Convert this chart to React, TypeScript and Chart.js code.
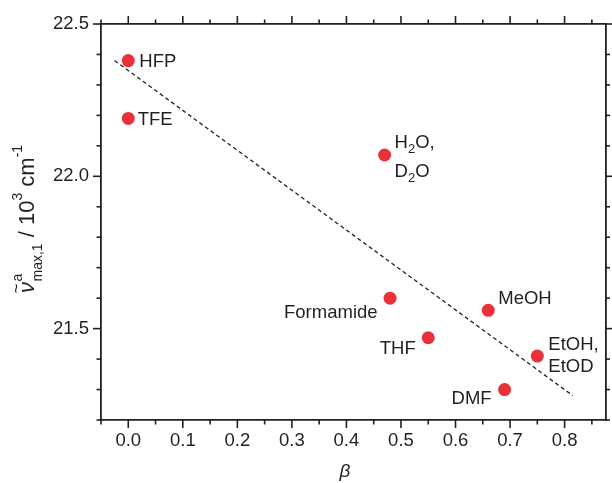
import React, { useEffect, useRef } from 'react';
import { Chart, registerables } from 'chart.js';

Chart.register(...registerables);

// ---- data ----
const solvents = ['HFP', 'TFE', 'H2O, D2O', 'Formamide', 'THF', 'MeOH', 'DMF', 'EtOH, EtOD'];
const betaValues = [0.0, 0.0, 0.47, 0.48, 0.55, 0.66, 0.69, 0.75];
const nuValues = [22.38, 22.19, 22.07, 21.6, 21.47, 21.56, 21.3, 21.41];
const fitBeta = [-0.025, 0.815];
const fitNu = [22.38, 21.28];
const xTicks = [0.0, 0.1, 0.2, 0.3, 0.4, 0.5, 0.6, 0.7, 0.8];
const xMinorTicks = [-0.05, 0.05, 0.15, 0.25, 0.35, 0.45, 0.55, 0.65, 0.75, 0.85];
const yTicks = [21.5, 22.0, 22.5];
const yMinorTicks = [21.2, 21.3, 21.4, 21.6, 21.7, 21.8, 21.9, 22.1, 22.2, 22.3, 22.4];

// ---- styles ----
const FONT = "'Liberation Sans', Arial, Helvetica, sans-serif";
const TEXT = '#231f20';
const AXIS = '#231f20';
const POINT = '#e8313a';
const LABEL_SIZE = 18.5;

// label placement relative to point (dx, dy = first baseline offset)
const labelStyle: Record<string, { dx: number; dy: number; align: 'left' | 'right'; gap: number }> = {
  HFP: { dx: 11, dy: 6, align: 'left', gap: 0 },
  TFE: { dx: 9.5, dy: 7, align: 'left', gap: 0 },
  'H2O, D2O': { dx: 10, dy: -7, align: 'left', gap: 29 },
  Formamide: { dx: -12.5, dy: 19.5, align: 'right', gap: 0 },
  THF: { dx: -12.5, dy: 16, align: 'right', gap: 0 },
  MeOH: { dx: 10, dy: -6.5, align: 'left', gap: 0 },
  DMF: { dx: -13, dy: 14.5, align: 'right', gap: 0 },
  'EtOH, EtOD': { dx: 11, dy: -6.5, align: 'left', gap: 22 },
};

type Seg = { t: string; sub?: boolean };

function toLines(name: string): Seg[][] {
  const parts = name.split(', ');
  return parts.map((p, i) => {
    const s = i < parts.length - 1 ? p + ',' : p;
    const segs: Seg[] = [];
    const re = /(\d+|\D+)/g;
    let m: RegExpExecArray | null;
    while ((m = re.exec(s))) {
      segs.push({ t: m[0], sub: /\d/.test(m[0]) });
    }
    return segs;
  });
}

function drawRich(ctx: CanvasRenderingContext2D, segs: Seg[], x: number, y: number, size: number, align: 'left' | 'right') {
  const main = `${size}px ${FONT}`;
  const small = `${Math.round(size * 0.68)}px ${FONT}`;
  let total = 0;
  for (const s of segs) {
    ctx.font = s.sub ? small : main;
    total += ctx.measureText(s.t).width;
  }
  let cx = align === 'left' ? x : x - total;
  ctx.textAlign = 'left';
  ctx.textBaseline = 'alphabetic';
  for (const s of segs) {
    ctx.font = s.sub ? small : main;
    ctx.fillText(s.t, cx, s.sub ? y + size * 0.28 : y);
    cx += ctx.measureText(s.t).width;
  }
}

const decorPlugin = {
  id: 'decor',
  afterDatasetsDraw(chart: any) {
    const ctx: CanvasRenderingContext2D = chart.ctx;
    const meta = chart.getDatasetMeta(0);
    ctx.save();
    ctx.fillStyle = TEXT;
    solvents.forEach((name, i) => {
      const el = meta.data[i];
      const st = labelStyle[name];
      const lines = toLines(name);
      lines.forEach((segs, li) => {
        drawRich(ctx, segs, el.x + st.dx, el.y + st.dy + li * st.gap, LABEL_SIZE, st.align);
      });
    });
    ctx.restore();
  },
  afterDraw(chart: any) {
    const ctx: CanvasRenderingContext2D = chart.ctx;
    const xs = chart.scales.x;
    const ys = chart.scales.y;
    const { left, right, top, bottom } = chart.chartArea;
    ctx.save();
    ctx.strokeStyle = AXIS;
    ctx.lineWidth = 1.6;
    const seg = (x1: number, y1: number, x2: number, y2: number) => {
      ctx.beginPath();
      ctx.moveTo(x1, y1);
      ctx.lineTo(x2, y2);
      ctx.stroke();
    };
    const drawX = (vals: number[], len: number) => {
      vals.forEach((v) => {
        const px = xs.getPixelForValue(v);
        seg(px, bottom, px, bottom + len);
        seg(px, top, px, top - len);
      });
    };
    const drawY = (vals: number[], len: number) => {
      vals.forEach((v) => {
        const py = ys.getPixelForValue(v);
        seg(left, py, left - len, py);
        seg(right, py, right + len, py);
      });
    };
    drawX(xTicks, 8);
    drawX(xMinorTicks, 4.5);
    drawY(yTicks, 8);
    drawY(yMinorTicks, 4.5);

    // x title
    ctx.fillStyle = TEXT;
    ctx.font = `italic 19px ${FONT}`;
    ctx.textAlign = 'center';
    ctx.textBaseline = 'alphabetic';
    ctx.fillText('β', 345, 477);

    // y title (rotated, laid out bottom to top)
    ctx.save();
    ctx.rotate(-Math.PI / 2);
    ctx.textAlign = 'left';
    ctx.textBaseline = 'alphabetic';
    const mainF = `22px ${FONT}`;
    const smallF = `14px ${FONT}`;
    const base = 34; // screen x of main baseline
    const supBase = 22;
    const subBase = 42;
    let pos = 293; // screen y where text starts
    const put = (txt: string, font: string, sx: number) => {
      ctx.font = font;
      ctx.fillText(txt, -pos, sx);
      return ctx.measureText(txt).width;
    };
    // nu with tilde
    const wNu = put('ν', `italic 22px ${FONT}`, base);
    ctx.font = `17px ${FONT}`;
    ctx.textAlign = 'center';
    ctx.fillText('~', -(pos - wNu / 2 + 1), base - 12);
    ctx.textAlign = 'left';
    pos -= wNu + 0.5;
    const subStart = pos;
    put('a', smallF, supBase);
    const wSub = put('max,1', smallF, subBase);
    pos = subStart - wSub;
    ctx.font = mainF;
    pos -= ctx.measureText(' ').width;
    pos -= put('/', mainF, base);
    pos -= ctx.measureText(' ').width;
    pos -= put('10', mainF, base);
    pos -= put('3', smallF, supBase);
    ctx.font = mainF;
    pos -= ctx.measureText(' ').width;
    pos -= put('cm', mainF, base);
    put('-1', smallF, supBase);
    ctx.restore();

    ctx.restore();
  },
};

export default function App() {
  const ref = useRef<HTMLCanvasElement | null>(null);
  useEffect(() => {
    if (!ref.current) return;
    Chart.defaults.font.family = FONT;
    const tickFont = { family: FONT, size: 18.5 };
    const border = { display: true, color: AXIS, width: 1.8 };
    const chart = new Chart(ref.current, {
      type: 'scatter',
      data: {
        datasets: [
          {
            label: 'solvents',
            data: betaValues.map((b, i) => ({ x: b, y: nuValues[i] })),
            backgroundColor: POINT,
            borderWidth: 0,
            pointRadius: 6.5,
          },
          {
            type: 'line',
            label: 'fit',
            data: fitBeta.map((b, i) => ({ x: b, y: fitNu[i] })),
            borderColor: '#231f20',
            borderWidth: 1.3,
            borderDash: [4, 3],
            pointRadius: 0,
            fill: false,
          } as any,
        ],
      },
      options: {
        responsive: false,
        animation: false,
        events: [],
        devicePixelRatio: 1,
        layout: { padding: 0 },
        plugins: { legend: { display: false }, tooltip: { enabled: false } },
        scales: {
          x: {
            type: 'linear',
            position: 'bottom',
            min: -0.05,
            max: 0.875,
            afterBuildTicks: (s: any) => {
              s.ticks = xTicks.map((v) => ({ value: v }));
            },
            afterFit: (s: any) => {
              s.height = 63;
            },
            ticks: { font: tickFont, color: TEXT, padding: 10, maxRotation: 0, callback: (v: any) => Number(v).toFixed(1) },
            grid: { display: false, drawTicks: false },
            border,
          },
          x2: {
            type: 'linear',
            position: 'top',
            min: -0.05,
            max: 0.875,
            ticks: { display: false },
            grid: { display: false, drawTicks: false },
            afterFit: (s: any) => {
              s.height = 24;
            },
            border,
          },
          y: {
            type: 'linear',
            position: 'left',
            min: 21.2,
            max: 22.5,
            afterBuildTicks: (s: any) => {
              s.ticks = yTicks.map((v) => ({ value: v }));
            },
            afterFit: (s: any) => {
              s.width = 101;
            },
            ticks: { font: tickFont, color: TEXT, padding: 12, callback: (v: any) => Number(v).toFixed(1) },
            grid: { display: false, drawTicks: false },
            border,
          },
          y2: {
            type: 'linear',
            position: 'right',
            min: 21.2,
            max: 22.5,
            ticks: { display: false },
            grid: { display: false, drawTicks: false },
            afterFit: (s: any) => {
              s.width = 5;
            },
            border,
          },
        },
      } as any,
      plugins: [decorPlugin],
    });
    return () => chart.destroy();
  }, []);
  return (
    <div style={{ position: 'absolute', left: 0, top: 0, width: 612, height: 483, background: '#fff' }}>
      <canvas ref={ref} width={612} height={483} />
    </div>
  );
}
